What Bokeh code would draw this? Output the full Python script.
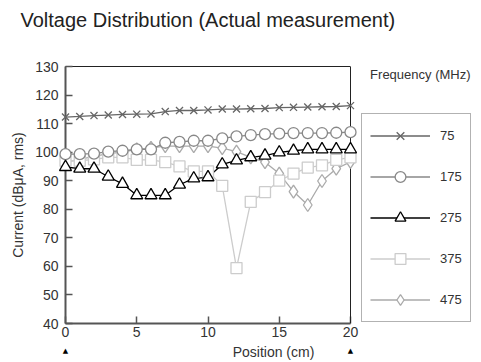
from bokeh.plotting import figure
from bokeh.models import (Range1d, FixedTicker, Legend, LegendItem, Label,
                          LinearAxis, Span, Title)
from bokeh.embed import file_html
from bokeh.resources import INLINE

positions = list(range(21))
x_ticks = [0, 5, 10, 15, 20]
y_ticks = [40, 50, 60, 70, 80, 90, 100, 110, 120, 130]
freq_labels = ["75", "175", "275", "375", "475"]
legend_title = "Frequency (MHz)"
end_marks_x = [0, 20]

v75 = [112.3, 112.5, 112.8, 113.0, 113.2, 113.3, 113.4, 114.2, 114.6, 114.6, 114.8,
       115.1, 115.1, 115.2, 115.3, 115.6, 115.7, 115.8, 115.9, 116.0, 116.3]
v175 = [99.3, 99.3, 99.5, 100.2, 100.5, 101.0, 101.0, 103.3, 103.6, 104.0, 104.0,
        104.8, 105.5, 106.0, 106.3, 106.5, 106.7, 106.7, 106.7, 106.8, 107.0]
v275 = [94.8, 94.2, 94.2, 91.4, 88.9, 84.9, 84.9, 84.9, 88.6, 90.8, 91.2,
        95.7, 97.1, 98.2, 98.8, 99.9, 100.5, 101.0, 101.0, 101.0, 101.0]
v375 = [97.0, 97.0, 97.5, 98.2, 98.2, 97.3, 97.3, 96.5, 95.0, 93.3, 93.3,
        88.2, 59.4, 82.6, 86.0, 90.0, 92.5, 94.6, 95.4, 97.3, 98.2]
v475 = [96.5, 97.5, 98.5, 99.5, 100.0, 101.0, 101.5, 102.1, 102.1, 102.1, 102.1,
        101.4, 100.2, 98.2, 96.5, 92.5, 86.2, 81.5, 89.9, 94.2, 96.6]

FONT = "Liberation Sans"
X_MIN, X_MAX = 0, 20
# the frame also holds the legend column to the right of the plotted area
PLOT_W_PX, FRAME_W_PX = 285, 416
x_end = X_MAX * FRAME_W_PX / PLOT_W_PX

p = figure(width=481, height=362, output_backend="svg", toolbar_location=None,
           x_range=Range1d(X_MIN, x_end), y_range=Range1d(40, 130),
           min_border_left=65, min_border_right=0, min_border_top=60,
           min_border_bottom=37)

p.xgrid.visible = False
p.ygrid.visible = False
p.outline_line_color = None

p.xaxis.ticker = FixedTicker(ticks=x_ticks)
p.yaxis.ticker = FixedTicker(ticks=y_ticks)
p.xaxis.bounds = (X_MIN, X_MAX)
for ax in (p.xaxis, p.yaxis):
    ax.axis_line_color = "#555555"
    ax.axis_line_width = 2
    ax.major_tick_in = 7
    ax.major_tick_out = 0
    ax.major_tick_line_color = "#555555"
    ax.major_tick_line_width = 1.5
    ax.minor_tick_line_color = None
    ax.major_label_text_font = FONT
    ax.major_label_text_font_size = "14px"
    ax.major_label_text_color = "#333333"
    ax.axis_label_text_font = FONT
    ax.axis_label_text_font_size = "14px"
    ax.axis_label_text_font_style = "normal"
    ax.axis_label_text_color = "#333333"
p.yaxis.axis_label = "Current (dBμA, rms)"
p.xaxis.major_label_standoff = 3
p.yaxis.major_label_standoff = 7
p.yaxis.axis_label_standoff = 6

# second bottom axis: end markers at both ends, carries the x axis title
mark_axis = LinearAxis(bounds=(X_MIN, X_MAX), ticker=FixedTicker(ticks=end_marks_x),
                       major_label_overrides={m: "▲" for m in end_marks_x},
                       axis_line_color=None, major_tick_line_color=None,
                       minor_tick_line_color=None,
                       major_label_text_font="DejaVu Sans",
                       major_label_text_font_size="7px",
                       major_label_text_color="#000000",
                       major_label_standoff=1,
                       axis_label="Position (cm)",
                       axis_label_text_font=FONT,
                       axis_label_text_font_size="14px",
                       axis_label_text_font_style="normal",
                       axis_label_text_color="#333333",
                       axis_label_standoff=-14)
p.add_layout(mark_axis, "below")

# top edge of the plotting box (its blank label row spaces the title upward)
top_axis = LinearAxis(bounds=(X_MIN, X_MAX), ticker=FixedTicker(ticks=[X_MIN]),
                      major_label_overrides={X_MIN: " "},
                      axis_line_color="#222222", axis_line_width=1,
                      major_tick_line_color=None, minor_tick_line_color=None,
                      major_label_text_font=FONT,
                      major_label_text_font_size="14px",
                      major_label_standoff=5)
p.add_layout(top_axis, "above")
p.add_layout(Title(text="Voltage Distribution (Actual measurement)",
                   text_font=FONT, text_font_size="20px", text_font_style="normal",
                   text_color="#222222", align="left", offset=-45, standoff=12),
             "above")
# right edge of the plotting box
p.add_layout(Span(location=X_MAX, dimension="height", line_color="#222222",
                  line_width=1))

series = [
    ("75", v75, "#666666", "x", 10),
    ("175", v175, "#888888", "circle", 11),
    ("275", v275, "#000000", "triangle", 12),
    ("375", v375, "#cccccc", "square", 11),
    ("475", v475, "#aaaaaa", "diamond", 13),
]
items = {}
draw_order = ["475", "375", "175", "75", "275"]
sd = {s[0]: s for s in series}
for key in draw_order:
    lab, vals, col, mk, sz = sd[key]
    lr = p.line(positions, vals, line_color=col, line_width=1.3)
    sr = p.scatter(positions, vals, marker=mk, size=sz, line_color=col,
                   fill_color="white", line_width=1.3, level="overlay")
    items[lab] = LegendItem(label=lab, renderers=[lr, sr])

legend = Legend(items=[items[k] for k in freq_labels], location=(296, 1))
legend.border_line_color = "#666666"
legend.border_line_width = 1
legend.padding = 8
legend.spacing = 14
legend.margin = 0
legend.glyph_width = 60
legend.glyph_height = 27
legend.label_height = 27
legend.label_standoff = 10
legend.label_text_font = FONT
legend.label_text_font_size = "13px"
legend.label_text_color = "#333333"
legend.background_fill_color = "white"
legend.background_fill_alpha = 1.0
p.add_layout(legend)

p.add_layout(Label(x=24.9, y=127.3, text=legend_title, text_align="center",
                   text_baseline="middle", text_font=FONT, text_font_size="13px",
                   text_color="#333333"))

open("out.html", "w").write(file_html(p, INLINE))
